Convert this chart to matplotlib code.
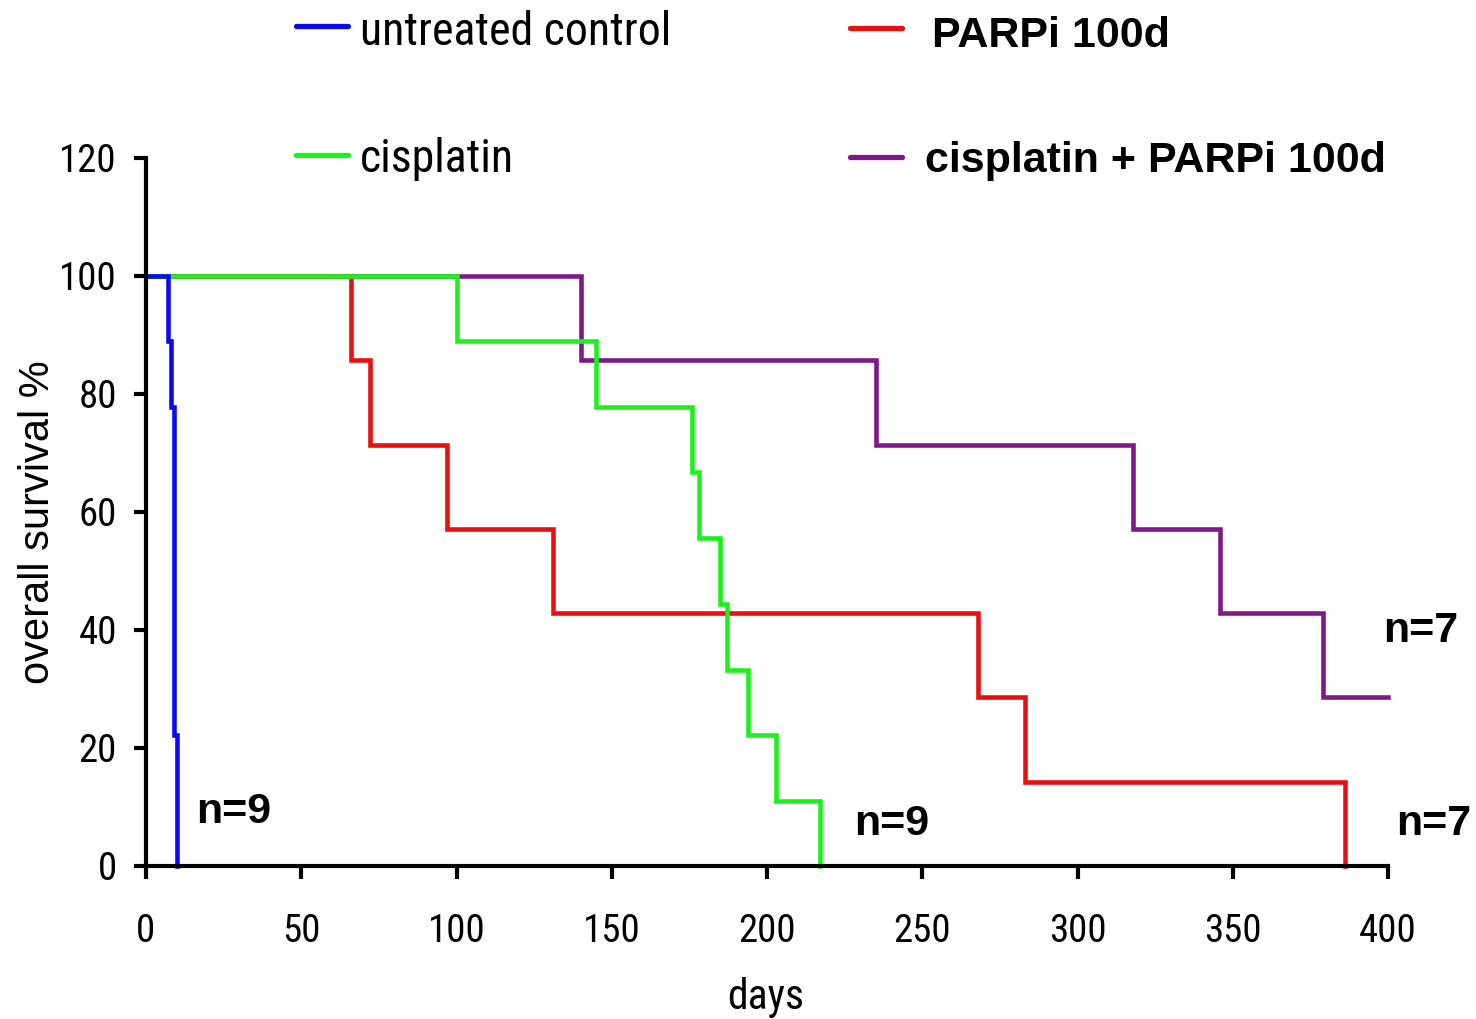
import numpy as np
from matplotlib import pyplot as plt
from matplotlib.lines import Line2D
from matplotlib import font_manager

#%% Données (jours, survie %)

noms = ['untreated control', 'PARPi 100d', 'cisplatin', 'cisplatin + PARPi 100d']

t_controle = [0, 7, 8, 9, 10]
s_controle = [100, 88.9, 77.8, 22.2, 0]

t_parpi = [0, 66, 72, 97, 131, 268, 283, 386]
s_parpi = [100, 85.7, 71.4, 57.1, 42.9, 28.6, 14.3, 0]

t_cis = [0, 100, 145, 176, 178, 185, 187, 194, 203, 217]
s_cis = [100, 88.9, 77.8, 66.7, 55.6, 44.4, 33.3, 22.2, 11.1, 0]

t_combi = [0, 140, 235, 318, 346, 379, 400]
s_combi = [100, 85.7, 71.4, 57.1, 42.9, 28.6, 28.6]

effectifs = ['n=9', 'n=7', 'n=9', 'n=7']
pos_effectifs = [(16, 7.3), (402.5, 5.3), (228, 5.3), (398.5, 37.9)]   # position des étiquettes n=

couleurs = ['#0a0af0', '#e81010', '#1ef01e', '#7d1a87']

xticks = [0, 50, 100, 150, 200, 250, 300, 350, 400]
yticks = [0, 20, 40, 60, 80, 100, 120]

#%% Polices : une police étroite si possible, sinon Liberation Sans un peu plus petite

dispo = {f.name for f in font_manager.fontManager.ttflist}
etroit = None
for nom_police in ['Liberation Sans Narrow', 'Arial Narrow', 'Roboto Condensed', 'Open Sans Condensed']:
    if nom_police in dispo:
        etroit = [nom_police, 'DejaVu Sans']
        break
if etroit is None:
    etroit = ['Liberation Sans', 'DejaVu Sans']
    f_tick, f_leg, f_days = 25, 30, 27
else:
    f_tick, f_leg, f_days = 28, 33, 30
normal = ['Liberation Sans', 'DejaVu Sans']

#%% Figure

W, H = 1476, 1019
fig = plt.figure(figsize=(W/100, H/100), dpi=100)
ax = fig.add_axes([146/W, 1-866/H, (1388-146)/W, (866-158)/H])

series = [(t_controle, s_controle), (t_parpi, s_parpi), (t_cis, s_cis), (t_combi, s_combi)]
for i in [3, 1, 2, 0]:   # le violet derrière, le bleu devant
    t, s = series[i]
    ax.step(t, s, where='post', color=couleurs[i], lw=3.3, solid_joinstyle='miter', clip_on=False)

ax.set_xlim(0, 400)
ax.set_ylim(0, 120)
ax.set_xticks(xticks)
ax.set_yticks(yticks)
for sp in ['top', 'right']:
    ax.spines[sp].set_visible(False)
for sp in ['left', 'bottom']:
    ax.spines[sp].set_linewidth(3)
ax.tick_params(direction='out', length=9, width=3, labelsize=f_tick)
ax.tick_params(axis='x', pad=25)
ax.tick_params(axis='y', pad=12)
for lab in ax.get_xticklabels() + ax.get_yticklabels():
    lab.set_family(etroit)

fig.text(766/W, 1-997/H, 'days', family=etroit, fontsize=f_days, ha='center', va='center')
fig.text(38/W, 1-522/H, 'overall survival %', family=normal, fontsize=30,
         rotation=90, ha='center', va='center')

# étiquettes d'effectifs
for (x, y), txt in zip(pos_effectifs, effectifs):
    ax.text(x, y, txt, fontsize=31, fontweight='bold', family=normal, va='baseline', ha='left')

#%% Légende placée à la main (positions en pixels)

leg = [(296, 26, 360, 45, False), (850, 28, 932, 47, True),
       (296, 155, 360, 172, False), (850, 157, 925, 172, True)]
for (lx, ly, tx, ty, gras), nom, c in zip(leg, noms, couleurs):
    fig.add_artist(Line2D([lx/W, (lx+52)/W], [1-ly/H, 1-ly/H], color=c, lw=3.8,
                          solid_capstyle='round', transform=fig.transFigure))
    if gras:
        fig.text(tx/W, 1-ty/H, nom, fontsize=31, fontweight='bold', family=normal, va='baseline')
    else:
        fig.text(tx/W, 1-ty/H, nom, fontsize=f_leg, family=etroit, va='baseline')

fig.savefig('out.png', dpi=100)
